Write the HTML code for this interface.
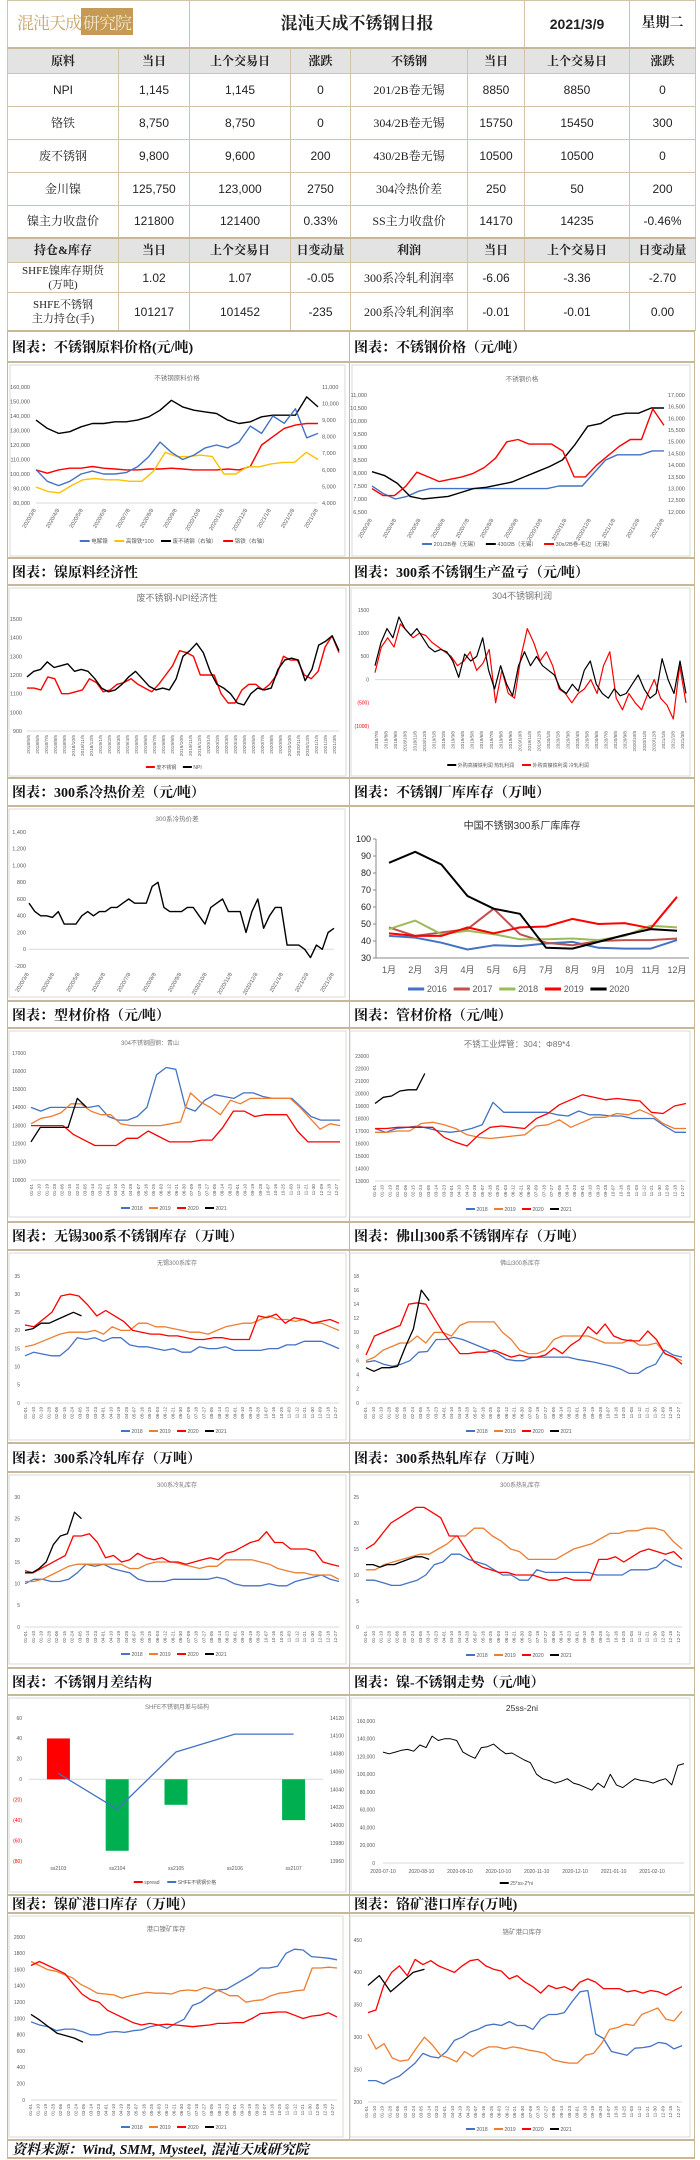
<!DOCTYPE html>
<html><head><meta charset="utf-8">
<style>
*{margin:0;padding:0;box-sizing:border-box}
body{width:700px;height:2160px;background:#fff;position:relative;overflow:hidden;font-family:"Liberation Sans","Noto Sans CJK SC",sans-serif}
table{position:absolute;left:7px;top:0;width:688px;border-collapse:collapse;table-layout:fixed}
td{border:1px solid #d2c4a6;text-align:center;vertical-align:middle;font-size:12px;color:#222;padding:0;line-height:14px}
.s{font-family:"Liberation Serif","Noto Serif CJK SC",serif}
.h td{background:#e3e3e3;font-weight:bold;font-family:"Liberation Serif","Noto Serif CJK SC",serif;font-size:12px}
.thick td{border-top:2px solid #c8b89a}
.band{position:absolute;border:1px solid #c8b89a;border-width:2px 1px 1px 1px;background:#fff}
.ttl{position:absolute;font-family:"Liberation Serif","Noto Serif CJK SC",serif;font-weight:bold;font-size:14px;color:#111;padding-left:4px;border-left:1px solid #c8b89a;border-right:1px solid #c8b89a;border-top:2px solid #c8b89a;border-bottom:2px solid #c8b89a;display:flex;align-items:center;background:#fff}
svg{position:absolute;left:0;top:0}
</style></head><body>
<table>
<colgroup><col style="width:111px"><col style="width:71px"><col style="width:101px"><col style="width:60px"><col style="width:117px"><col style="width:57px"><col style="width:105px"><col style="width:66px"></colgroup>
<tr style="height:47px;border-bottom:2px solid #c8b89a">
<td colspan="2" style="text-align:left;padding-left:9px"><span style="font-family:'Noto Serif CJK SC',serif;color:#c9a46a;font-size:17px;letter-spacing:-1px">混沌天成<span style="background:#c49a55;color:#f3e6cc;padding:1px 2px">研究院</span></span></td>
<td colspan="4" class="s" style="font-size:17px;font-weight:bold">混沌天成不锈钢日报</td>
<td style="font-size:14px;font-weight:bold">2021/3/9</td>
<td class="s" style="font-size:14px;font-weight:bold">星期二</td></tr>
<tr class="h" style="height:26px"><td>原料</td><td>当日</td><td>上个交易日</td><td>涨跌</td><td>不锈钢</td><td>当日</td><td>上个交易日</td><td>涨跌</td></tr>
<tr style="height:33px"><td>NPI</td><td>1,145</td><td>1,145</td><td>0</td><td class="s">201/2B卷无锡</td><td>8850</td><td>8850</td><td>0</td></tr>
<tr style="height:33px"><td class="s">铬铁</td><td>8,750</td><td>8,750</td><td>0</td><td class="s">304/2B卷无锡</td><td>15750</td><td>15450</td><td>300</td></tr>
<tr style="height:33px"><td class="s">废不锈钢</td><td>9,800</td><td>9,600</td><td>200</td><td class="s">430/2B卷无锡</td><td>10500</td><td>10500</td><td>0</td></tr>
<tr style="height:33px"><td class="s">金川镍</td><td>125,750</td><td>123,000</td><td>2750</td><td class="s">304冷热价差</td><td>250</td><td>50</td><td>200</td></tr>
<tr style="height:32px"><td class="s">镍主力收盘价</td><td>121800</td><td>121400</td><td>0.33%</td><td class="s">SS主力收盘价</td><td>14170</td><td>14235</td><td>-0.46%</td></tr>
<tr class="h thick" style="height:25px"><td>持仓&amp;库存</td><td>当日</td><td>上个交易日</td><td>日变动量</td><td>利润</td><td>当日</td><td>上个交易日</td><td>日变动量</td></tr>
<tr style="height:30px"><td class="s" style="font-size:11px">SHFE镍库存期货<br>(万吨)</td><td>1.02</td><td>1.07</td><td>-0.05</td><td class="s">300系冷轧利润率</td><td>-6.06</td><td>-3.36</td><td>-2.70</td></tr>
<tr style="height:38px"><td class="s" style="font-size:11px">SHFE不锈钢<br>主力持仓(手)</td><td>101217</td><td>101452</td><td>-235</td><td class="s">200系冷轧利润率</td><td>-0.01</td><td>-0.01</td><td>0.00</td></tr>
</table>

<div class="ttl" style="left:7px;top:330px;width:343px;height:33px">图表：不锈钢原料价格(元/吨)</div>
<div class="ttl" style="left:349px;top:330px;width:346px;height:33px">图表：不锈钢价格（元/吨）</div>
<div class="ttl" style="left:7px;top:557px;width:343px;height:29px">图表：镍原料经济性</div>
<div class="ttl" style="left:349px;top:557px;width:346px;height:29px">图表：300系不锈钢生产盈亏（元/吨）</div>
<div class="ttl" style="left:7px;top:777px;width:343px;height:30px">图表：300系冷热价差（元/吨）</div>
<div class="ttl" style="left:349px;top:777px;width:346px;height:30px">图表：不锈钢厂库库存（万吨）</div>
<div class="ttl" style="left:7px;top:1000px;width:343px;height:29px">图表：型材价格（元/吨）</div>
<div class="ttl" style="left:349px;top:1000px;width:346px;height:29px">图表：管材价格（元/吨）</div>
<div class="ttl" style="left:7px;top:1221px;width:343px;height:30px">图表：无锡300系不锈钢库存（万吨）</div>
<div class="ttl" style="left:349px;top:1221px;width:346px;height:30px">图表：佛山300系不锈钢库存（万吨）</div>
<div class="ttl" style="left:7px;top:1442px;width:343px;height:31px">图表：300系冷轧库存（万吨）</div>
<div class="ttl" style="left:349px;top:1442px;width:346px;height:31px">图表：300系热轧库存（万吨）</div>
<div class="ttl" style="left:7px;top:1667px;width:343px;height:29px">图表：不锈钢月差结构</div>
<div class="ttl" style="left:349px;top:1667px;width:346px;height:29px">图表：镍-不锈钢走势（元/吨）</div>
<div class="ttl" style="left:7px;top:1894px;width:343px;height:20px">图表：镍矿港口库存（万吨）</div>
<div class="ttl" style="left:349px;top:1894px;width:346px;height:20px">图表：铬矿港口库存(万吨)</div>
<div style="position:absolute;left:7px;top:363px;width:1px;height:1777px;background:#c8b89a"></div>
<div style="position:absolute;left:694px;top:363px;width:1px;height:1777px;background:#c8b89a"></div>
<div style="position:absolute;left:349px;top:363px;width:1px;height:1777px;background:#c8b89a"></div>
<div class="ttl" style="left:7px;top:2139px;width:688px;height:20px;font-style:italic;font-size:14px">资料来源：Wind, SMM, Mysteel, 混沌天成研究院</div>

<svg id="charts" width="700" height="2160"></svg>
<script>
// ---------- DATA ----------
const months13 = ["2020/3/8","2020/4/8","2020/5/8","2020/6/8","2020/7/8","2020/8/8","2020/9/8","2020/10/8","2020/11/8","2020/12/8","2021/1/8","2021/2/8","2021/3/8"];
const days41 = "01-01 01-10 01-19 01-28 02-06 02-15 02-24 03-05 03-14 03-23 04-01 04-10 04-19 04-28 05-07 05-16 05-25 06-03 06-12 06-21 06-30 07-09 07-18 07-27 08-05 08-14 08-23 09-01 09-10 09-19 09-28 10-07 10-16 10-25 11-03 11-12 11-21 11-30 12-09 12-18 12-27".split(" ");
// chart1
const c1Nickel = [103,95,92,95,100,102,100,100,101,105,112,122,115,110,113,118,120,118,122,133,128,140,135,145,125,128];
const c1NPI = [91,88,87,92,96,97,96,96,95,95,102,115,112,112,113,112,100,100,105,105,107,108,108,115,110];
const c1Scrap = [9000,8500,8200,8300,8600,8800,8800,8900,8900,9000,9200,9600,10200,9800,9600,9500,9400,9000,8800,8900,9200,9300,9300,9300,10400,9800];
const c1Chrome = [6000,5800,6000,6100,6100,6200,6100,6050,6000,6000,6050,6050,6100,6050,6000,6000,6000,6050,6000,6200,7500,8000,8500,8700,8800,8800];
const c1LeftTicks = [80,90,100,110,120,130,140,150,160];
const c1RightTicks = [4000,5000,6000,7000,8000,9000,10000,11000];
// chart2
const c2_201 = [7500,7200,7000,7100,7300,7400,7400,7400,7400,7400,7400,7400,7400,7400,7400,7400,7500,7500,7500,8000,8500,8700,8700,8700,8850,8850];
const c2_430 = [8050,7900,7600,7100,7000,7050,7100,7250,7400,7450,7550,7650,7850,8050,8250,8500,9100,9800,9900,10200,10300,10300,10500,10500];
const c2_304 = [13000,12700,12700,13100,13700,13500,13300,13400,13500,13650,13900,14300,15000,15100,14900,14900,14900,14600,13500,13500,14000,14400,14800,15100,15100,16400,15700];
const c2LeftTicks = [6500,7000,7500,8000,8500,9000,9500,10000,10500,11000];
const c2RightTicks = [12000,12500,13000,13500,14000,14500,15000,15500,16000,16500,17000];
// chart3
const c3NPI = [1190,1220,1230,1270,1240,1250,1260,1220,1230,1220,1180,1130,1110,1120,1150,1190,1220,1180,1140,1120,1130,1120,1180,1300,1330,1370,1320,1220,1150,1130,1100,1050,1040,1100,1130,1120,1130,1230,1280,1290,1280,1170,1230,1360,1380,1410,1330];
const c3Scrap = [1130,1130,1120,1190,1180,1100,1100,1110,1120,1180,1160,1110,1120,1150,1160,1180,1150,1130,1110,1150,1200,1250,1330,1320,1300,1200,1200,1200,1100,1050,1050,1120,1150,1150,1120,1150,1200,1300,1280,1280,1200,1180,1220,1350,1410,1320];
const c3Ticks = [900,1000,1100,1200,1300,1400,1500];
const c3XLabels = "2018/5/5 2018/6/5 2018/7/5 2018/8/5 2018/9/5 2018/10/5 2018/11/5 2018/12/5 2019/1/5 2019/2/5 2019/3/5 2019/4/5 2019/5/5 2019/6/5 2019/7/5 2019/8/5 2019/9/5 2019/10/5 2019/11/5 2019/12/5 2020/1/5 2020/2/5 2020/3/5 2020/4/5 2020/5/5 2020/6/5 2020/7/5 2020/8/5 2020/9/5 2020/10/5 2020/11/5 2020/12/5 2021/1/5 2021/2/5 2021/3/5".split(" ");
// chart4
const c4Hot = [300,800,1100,900,1350,1100,950,1100,900,700,600,650,600,400,50,550,400,500,900,200,-200,300,-100,-350,300,600,300,500,300,200,100,-200,-300,-100,-250,200,400,-100,-300,-400,-200,-350,-300,-100,100,-200,-400,-300,450,0,-300,400,-300];
const c4Cold = [150,700,900,700,1200,1050,900,1000,950,800,700,600,500,300,400,600,200,350,650,-500,200,-300,-400,500,1100,800,400,600,300,-200,-300,-500,-300,-200,0,-300,300,600,-400,-650,-300,-500,-650,-300,0,-400,-550,-850,300,-500];
const c4Ticks = [-1000,-500,0,500,1000,1500];
const c4TickLabels = ["(1000)","(500)","0","500","1000","1500"];
const c4XLabels = "2018/7/8 2018/8/8 2018/9/8 2018/10/8 2018/11/8 2018/12/8 2019/1/8 2019/2/8 2019/3/8 2019/4/8 2019/5/8 2019/6/8 2019/7/8 2019/8/8 2019/9/8 2019/10/8 2019/11/8 2019/12/8 2020/1/8 2020/2/8 2020/3/8 2020/4/8 2020/5/8 2020/6/8 2020/7/8 2020/8/8 2020/9/8 2020/10/8 2020/11/8 2020/12/8 2021/1/8 2021/2/8 2021/3/8".split(" ");
// chart5
const c5Spread = [550,450,400,400,380,450,300,300,300,400,450,400,450,450,500,500,550,600,550,550,550,750,800,500,450,450,450,500,500,400,300,500,550,600,450,450,450,200,450,600,250,400,500,500,50,50,50,0,-100,50,0,200,250];
const c5Ticks = [-200,0,200,400,600,800,1000,1200,1400];
// chart6
const c6Months = ["1月","2月","3月","4月","5月","6月","7月","8月","9月","10月","11月","12月"];
const c6Y2016 = [43,42,39,35,37.5,37,38.5,39.5,36,35.5,35.5,40.5];
const c6Y2017 = [48,43,45,47,59,44,39,37.5,40,40.5,40.5,41.5];
const c6Y2018 = [47,52,44,46,44,41,41,41.5,40.5,43,49,48];
const c6Y2019 = [44.5,43,43,48,44.5,48,48.5,53,50,50.5,47.5,66];
const c6Y2020 = [86,92.5,85,66.5,59,56,36,35.5,39.5,43.5,47,46];
const c6Ticks = [30,40,50,60,70,80,90,100];
// chart7
const c7Y2018 = [14000,13800,14000,14000,14000,14000,14000,14100,13500,13300,13300,13500,14000,15800,16200,16100,14000,13800,14400,14700,14600,14500,14800,14800,14600,14500,14500,14500,14000,13500,13300,13300,13300];
const c7Y2019 = [13100,13400,13500,13700,14200,14200,13800,13600,13600,13100,13000,13000,13000,13000,13100,13200,14800,14300,14000,13600,14400,14200,14500,14500,14500,14500,14500,14000,13400,12800,13100,13000];
const c7Y2020 = [13000,13000,13000,13000,12500,12200,11900,11900,11900,12300,12300,12700,12400,12100,12100,12100,12200,12200,12900,13800,13800,13500,13600,13600,13600,12700,12100,12100,12100,12100];
const c7Y2021 = [12100,12900,12900,12900,12900,14500,14000];
const c7Ticks = [10000,11000,12000,13000,14000,15000,16000,17000];
// chart8
const c8Y2018 = [17200,16900,17200,17300,17400,17200,17000,16900,17000,17200,17500,19300,18500,18500,18500,18500,18500,18300,18200,18600,18300,18300,18200,18200,18000,18000,18000,17400,16900,16900];
const c8Y2019 = [16900,16900,17000,17000,17600,17700,17500,17200,16700,16500,16400,16500,16600,16700,17400,17500,17900,17300,17700,18100,18100,18400,18300,18700,18300,17600,17200,17200];
const c8Y2020 = [17200,17200,17300,17300,17300,17300,16500,16100,15800,16700,17300,17400,17300,17200,18000,18400,19100,19500,19900,19700,19500,19600,19500,19400,18500,18400,19000,19200];
const c8Y2021 = [19200,19700,19800,20200,20300,20300,21600];
const c8Ticks = [13000,14000,15000,16000,17000,18000,19000,20000,21000,22000,23000];
// chart9
const c9Y2018 = [13,14,13.5,13,13,15,18,17.5,18,17,18,18,16,15.5,15.5,15,14.5,15,14,14,15.5,15,15,15.5,14.5,14.5,14.5,14.5,15,15,16,16,17,17,17,16,15];
const c9Y2019 = [15.5,16,17,18,19,19.5,19.5,19.5,20,19,21,20,20,22,22,21,21,20.5,20,19.5,19.5,19,20,21,21.5,22,22,23,24,23,23,22.5,23,22,22,21,20];
const c9Y2020 = [21.5,21,23,25,29.5,30,29.5,27,24,25.5,24,22.5,20,19.5,19,19,18.5,18.5,18,17.5,17.5,18,18,17.5,17.5,17.5,24,23.5,24.5,22,23.5,23,22,22.5,23,22];
const c9Y2021 = [20,20.5,22,22,23,24,25,24];
const c9Ticks = [0,5,10,15,20,25,30,35];
// chart10
const c10Y2018 = [5.8,6,5.5,5.2,5.5,6,7.2,7.3,9,9,9.3,9,8.5,8,7.5,7,6.2,6,6,6.5,6.5,6.5,6.5,6.5,6.2,6,5.8,5.5,5.2,4.8,4.2,4.2,5,5.5,7.5,6.8,6.5];
const c10Y2019 = [6,6.5,7.5,8,8.5,8.5,9.5,8.5,10,10,9.5,11,11.5,11.5,11.5,11.5,10,9,7.5,7,7,7.5,9,9.5,9.5,9.5,9.5,9,8.5,8.5,8.5,9,8.2,8.2,8.5,7,6.5,6];
const c10Y2020 = [6.8,9.5,10,10.5,11,14,14.2,14,12,10,8.5,7,7,7.2,7.2,7.5,7,6.5,6.8,6.5,6.5,6.8,7.8,7,8.2,9,10.8,9.8,11.2,9.5,9,8.8,8.8,10.2,9,7,6.5,5.5];
const c10Y2021 = [5,4.5,5,5,5.2,8,10.5,16,14.5];
const c10Ticks = [0,2,4,6,8,10,12,14,16,18];
// chart11
const c11Y2018 = [10,11,11,10.5,10.5,11,12.5,14.5,14,14.5,13.5,13,12.5,11,10.5,10.5,10.5,11,11,11,11,11,11.5,11,10,9.5,9.5,9.5,10,9.5,9.5,10.5,11,11.5,12,11,10.5];
const c11Y2019 = [10.5,10.5,11,12,13,14,14.5,14.5,14.5,14.5,14.5,14.5,13.5,13.5,14.5,15,15,15,14.5,14,13.5,14,14,15.5,15.5,15.5,15.5,15,14.5,13.5,13,12.5,12.5,12,12,12,11];
const c11Y2020 = [13,12.5,13.5,14.5,15.5,16.5,21,21,21.5,19.5,16,16.5,15,15.5,17,16,15.5,16,15,15,14.5,15,15.5,16,15.5,17,17.5,18.5,19.5,20,22,19.5,19.5,18,18,18,17.5,15,14.5,14];
const c11Y2021 = [12.5,12.5,13.5,15,19,21,21.5,26.5,25];
const c11Ticks = [0,5,10,15,20,25,30];
// chart12
const c12Y2018 = [9,9,8.5,8,8,8.5,9,10,12,12.5,14,14,13,12.5,12,11,10,10,9,9,11,10.5,10.5,10.5,10.5,10.5,10.5,10,10,10,10,11,11,11,11.5,13,12,11.5];
const c12Y2019 = [11,11,12,12.5,13,13.5,14,14,15,16,17.5,17.5,19,19,17.5,16.5,15,14.5,13,13,13,13,14,15,15.5,16,17,18,18,18.5,18.5,19,19,18.5,16.5,15];
const c12Y2020 = [15,16,18,20,21,22,23,23,22,21,17.5,17.5,15,12.5,11.5,11,10.5,10.5,10,10,10,9.5,9,9,9.5,9,9,9,13,13,13.5,12.5,13.5,14.5,15,14.5,14,14.5,13];
const c12Y2021 = [12,12,11.5,12,12,12.5,13,13.5,13.5,13];
const c12Ticks = [0,5,10,15,20,25];
// chart13
const c13Contracts = ["ss2103","ss2104","ss2105","ss2106","ss2107"];
const c13Spread = [40,-70,-25,0,-40];
const c13Price = [14058,14018,14082,14102,14102];
const c13LeftTicks = [-80,-60,-40,-20,0,20,40,60];
const c13LeftLabels = ["(80)","(60)","(40)","(20)","0","20","40","60"];
const c13RightTicks = [13960,13980,14000,14020,14040,14060,14080,14100,14120];
// chart14
const c14Values = [125,123,125,127,128,126,133,130,143,138,140,140,138,125,121,118,130,131,134,128,123,124,120,116,113,100,95,93,90,92,95,90,88,85,82,90,85,100,88,85,90,95,93,92,90,93,95,88,110,112];
const c14Ticks = [0,20000,40000,60000,80000,100000,120000,140000,160000];
const c14XLabels = ["2020-07-10","2020-08-10","2020-09-10","2020-10-10","2020-11-10","2020-12-10","2021-01-10","2021-02-10"];
// chart15
const c15Y2018 = [960,920,900,850,870,870,840,800,800,830,840,830,850,860,900,920,880,940,990,1160,1200,1280,1350,1360,1420,1480,1540,1620,1620,1640,1800,1850,1840,1760,1750,1740,1720];
const c15Y2019 = [1700,1650,1600,1580,1540,1500,1420,1370,1310,1300,1290,1250,1280,1300,1320,1310,1310,1300,1340,1350,1340,1380,1360,1330,1280,1280,1200,1220,1230,1280,1310,1320,1340,1350,1620,1620,1630,1620];
const c15Y2020 = [1650,1700,1650,1600,1550,1420,1300,1230,1200,1100,1050,1000,950,920,940,920,930,920,910,900,910,920,940,940,950,950,1000,1060,1070,1080,1080,1040,1000,1030,1040,1070,1020];
const c15Y2021 = [1050,980,900,820,790,760,710];
const c15Ticks = [0,200,400,600,800,1000,1200,1400,1600,1800,2000];
// chart16
const c16Y2018 = [233,233,228,235,240,250,260,275,270,268,278,295,300,308,312,318,320,318,324,318,318,312,328,335,335,338,355,370,372,305,298,278,275,272,283,284,286,292,290,282,287];
const c16Y2019 = [305,282,290,268,263,265,283,300,288,272,268,262,278,270,280,285,285,282,285,283,280,278,275,265,262,260,260,272,275,290,312,315,320,318,335,340,345,328,325,340];
const c16Y2020 = [338,342,380,400,410,395,420,412,418,410,405,400,410,418,420,410,405,402,390,395,385,378,368,380,375,378,372,385,390,385,375,375,375,370,372,368,372,370,365,372,378];
const c16Y2021 = [380,395,370,385,400,405];
const c16Ticks = [200,250,300,350,400,450];

// ---------- RENDER ----------
const NS='http://www.w3.org/2000/svg';
const svg=document.getElementById('charts');
const BLUE='#4472c4',ORANGE='#ed7d31',RED='#ff0000',BLACK='#000000',YELLOW='#ffc000';
function mk(tag,attrs){const e=document.createElementNS(NS,tag);for(const k in attrs)e.setAttribute(k,attrs[k]);svg.appendChild(e);return e;}
function sc(v,a,b,p0,p1){return p0+(v-a)/(b-a)*(p1-p0);}
function comma(v){return v.toString().replace(/\B(?=(\d{3})+(?!\d))/g,',');}
function frame(x,y,w,h,name){const r=mk('rect',{x:x,y:y,width:w,height:h,fill:'#fff',stroke:'#d9d9d9','stroke-width':1});

}
function title(t,x,y,size,color,name){const e=mk('text',{x:x,y:y,'font-size':size,fill:color,'text-anchor':'middle'});e.textContent=t;

}
function line(vals,g,span,color,w,name){
  const n=vals.length;
  const pts=vals.map((v,i)=>{const x=g.x0+(n>1?i/(n-1):0)*span*(g.x1-g.x0);const y=sc(v,g.min,g.max,g.yB,g.yT);return x.toFixed(1)+','+y.toFixed(1);});
  const p=mk('polyline',{points:pts.join(' '),fill:'none',stroke:color,'stroke-width':w,'stroke-linejoin':'round'});
  
  
}
function yLabels(ticks,labels,g,x,anchor,size,color,name){
  ticks.forEach((t,i)=>{const y=sc(t,g.min,g.max,g.yB,g.yT);const e=mk('text',{x:x,y:(y+size*0.35).toFixed(1),'font-size':size,fill:(typeof color==='function'?color(t):color),'text-anchor':anchor});e.textContent=labels[i];
  
  });
}
function xLabels(labels,g,y,rot,size,name){
  const n=labels.length;
  labels.forEach((l,i)=>{const x=g.x0+(n>1?i/(n-1):0)*(g.x1-g.x0);const e=mk('text',{x:0,y:0,'font-size':size,fill:'#595959','text-anchor':rot?'end':'middle',transform:'translate('+x.toFixed(1)+','+y+') rotate('+rot+')'});e.textContent=l;
  
  });
}
function baseline(g,y){mk('line',{x1:g.x0,x2:g.x1,y1:y,y2:y,stroke:'#d9d9d9','stroke-width':1});}
function legend(items,cx,y,size){
  const widths=items.map(it=>{let w=0;for(const c of it[0])w+=(c.charCodeAt(0)>255?size:size*0.55);return w+size*2.2+6;});
  let x=cx-widths.reduce((a,b)=>a+b,0)/2;
  items.forEach((it,i)=>{mk('line',{x1:x,x2:x+size*1.8,y1:y,y2:y,stroke:it[1],'stroke-width':Math.max(2,size/3)});
    const t=mk('text',{x:x+size*2.1,y:y+size*0.35,'font-size':size,fill:'#595959'});t.textContent=it[0];
    
    
    x+=widths[i];});
}
const k=v=>comma(v);
// chart 1
frame(10,365,335,191,'chart-raw-material-price');
title('不锈钢原料价格',177,380,6.5,'#777','chart1-title');
{const g={x0:36,x1:318,yT:387,yB:503,min:80,max:160};const g2={x0:36,x1:318,yT:387,yB:503,min:4000,max:11000};
baseline(g,503);
yLabels(c1LeftTicks,c1LeftTicks.map(v=>comma(v*1000)),g,30,'end',5.5,'#595959','chart1-left-tick');
yLabels(c1RightTicks,c1RightTicks.map(k),g2,322,'start',5.5,'#595959','chart1-right-tick');
xLabels(months13,g,510,-60,5.5,'chart1-x-tick');
line(c1Scrap,g2,1,BLACK,1.4,'series-scrap');
line(c1Chrome,g2,1,RED,1.4,'series-ferrochrome');
line(c1NPI,g,1,YELLOW,1.4,'series-npi');
line(c1Nickel,g,1,BLUE,1.4,'series-nickel');
legend([['电解镍',BLUE],['高镍铁*100',YELLOW],['废不锈钢（右轴）',BLACK],['铬铁（右轴）',RED]],177,541,5.5);}
// chart 2
frame(352,365,338,191,'chart-stainless-price');
title('不锈钢价格',522,381,6.5,'#777','chart2-title');
{const g={x0:372,x1:664,yT:395,yB:512,min:6500,max:11000};const g2={x0:372,x1:664,yT:395,yB:512,min:12000,max:17000};
yLabels(c2LeftTicks,c2LeftTicks.map(k),g,367,'end',5.5,'#595959','chart2-left-tick');
yLabels(c2RightTicks,c2RightTicks.map(k),g2,668,'start',5.5,'#595959','chart2-right-tick');
xLabels(months13,g,520,-60,5.5,'chart2-x-tick');
line(c2_201,g,1,BLUE,1.4,'series-201');
line(c2_430,g,1,BLACK,1.4,'series-430');
line(c2_304,g2,1,RED,1.4,'series-304');
legend([['201/2B卷（无锡）',BLUE],['430/2B（无锡）',BLACK],['30x/2B卷-毛边（无锡）',RED]],522,544,5.5);}
// chart 3
frame(9,588,337,188,'chart-nickel-economics');
title('废不锈钢-NPI经济性',177,601,9,'#777','chart3-title');
{const g={x0:27,x1:339,yT:619,yB:731,min:900,max:1500};
baseline(g,731);
yLabels(c3Ticks,c3Ticks.map(String),g,22,'end',5.5,'#595959','chart3-tick');
xLabels(c3XLabels,{x0:30,x1:336},735,-90,4.8,'chart3-x-tick');
line(c3Scrap,g,1,RED,1.4,'series-scrap-economics');
line(c3NPI,g,1,BLACK,1.4,'series-npi-economics');
legend([['废不锈钢',RED],['NPI',BLACK]],177,767,5);}
// chart 4
frame(351,588,339,188,'chart-304-profit');
title('304不锈钢利润',522,599,9,'#777','chart4-title');
{const g={x0:375,x1:686,yT:610,yB:726,min:-1000,max:1500};
baseline(g,sc(0,-1000,1500,726,610));
yLabels(c4Ticks,c4TickLabels,g,369,'end',5,v=>v<0?'#ff0000':'#595959','chart4-tick');
xLabels(c4XLabels,{x0:378,x1:684},731,-90,4.6,'chart4-x-tick');
line(c4Cold,g,1,RED,1.2,'series-cold-profit');
line(c4Hot,g,1,BLACK,1.2,'series-hot-profit');
legend([['外购高镍铁利润 热轧利润',BLACK],['外购高镍铁利润 冷轧利润',RED]],522,765,5);}
// chart 5
frame(9,809,336,188,'chart-cold-hot-spread');
title('300系冷热价差',177,821,6.5,'#777','chart5-title');
{const g={x0:29,x1:334,yT:832,yB:966,min:-200,max:1400};
baseline(g,sc(0,-200,1400,966,832));
yLabels(c5Ticks,c5Ticks.map(k),g,26,'end',5.5,'#595959','chart5-tick');
xLabels(months13,g,974,-60,5.5,'chart5-x-tick');
line(c5Spread,g,1,BLACK,1.4,'series-cold-hot-spread');}
// chart 6
{const g={x0:389,x1:677,yT:839,yB:958,min:30,max:100};
title('中国不锈钢300系厂库库存',522,829,10,'#333','chart6-title');
mk('line',{x1:376,x2:376,y1:839,y2:958,stroke:'#888'});
mk('line',{x1:376,x2:689,y1:958,y2:958,stroke:'#888'});
c6Ticks.forEach(t=>{const y=sc(t,30,100,958,839);mk('line',{x1:373,x2:376,y1:y,y2:y,stroke:'#888'});});
yLabels(c6Ticks,c6Ticks.map(String),g,371,'end',9,'#222','chart6-tick');
xLabels(c6Months,g,973,0,9,'chart6-x-tick');
line(c6Y2016,g,1,BLUE,2,'series-2016');
line(c6Y2017,g,1,'#c0504d',2,'series-2017');
line(c6Y2018,g,1,'#9bbb59',2,'series-2018');
line(c6Y2019,g,1,RED,2,'series-2019');
line(c6Y2020,g,1,BLACK,2,'series-2020');
legend([['2016',BLUE],['2017','#c0504d'],['2018','#9bbb59'],['2019',RED],['2020',BLACK]],522,989,9);}
// chart 7
frame(9,1031,337,186,'chart-section-price');
title('304不锈钢圆钢：青山',150,1045,6,'#777','chart7-title');
{const g={x0:31,x1:340,yT:1053,yB:1180,min:10000,max:17000};
baseline(g,1180);
yLabels(c7Ticks,c7Ticks.map(String),g,26,'end',5,'#595959','chart7-tick');
xLabels(days41,{x0:33,x1:338},1184,-90,4.6,'chart7-x-tick');
line(c7Y2018,g,1,BLUE,1.3,'series-2018');
line(c7Y2019,g,1,ORANGE,1.3,'series-2019');
line(c7Y2020,g,1,RED,1.3,'series-2020');
line(c7Y2021,g,0.18,BLACK,1.3,'series-2021');
legend([['2018',BLUE],['2019',ORANGE],['2020',RED],['2021',BLACK]],177,1208,5);}
// chart 8
frame(350,1031,340,186,'chart-pipe-price');
title('不锈工业焊管：304：Φ89*4',517,1047,8.5,'#777','chart8-title');
{const g={x0:375,x1:686,yT:1056,yB:1181,min:13000,max:23000};
baseline(g,1181);
yLabels(c8Ticks,c8Ticks.map(String),g,369,'end',5,'#595959','chart8-tick');
xLabels(days41,{x0:376,x1:684},1185,-90,4.6,'chart8-x-tick');
line(c8Y2018,g,1,BLUE,1.3,'series-2018');
line(c8Y2019,g,1,ORANGE,1.3,'series-2019');
line(c8Y2020,g,1,RED,1.3,'series-2020');
line(c8Y2021,g,0.16,BLACK,1.3,'series-2021');
legend([['2018',BLUE],['2019',ORANGE],['2020',RED],['2021',BLACK]],522,1209,5);}
// chart 9
frame(9,1253,337,187,'chart-wuxi-inventory');
title('无锡300系库存',177,1265,6,'#777','chart9-title');
{const g={x0:25,x1:339,yT:1276,yB:1403,min:0,max:35};
baseline(g,1403);
yLabels(c9Ticks,c9Ticks.map(String),g,20,'end',5,'#595959','chart9-tick');
xLabels(days41,{x0:27,x1:337},1407,-90,4.6,'chart9-x-tick');
line(c9Y2018,g,1,BLUE,1.3,'series-2018');
line(c9Y2019,g,1,ORANGE,1.3,'series-2019');
line(c9Y2020,g,1,RED,1.3,'series-2020');
line(c9Y2021,g,0.18,BLACK,1.3,'series-2021');
legend([['2018',BLUE],['2019',ORANGE],['2020',RED],['2021',BLACK]],177,1431,5);}
// chart 10
frame(350,1253,340,187,'chart-foshan-inventory');
title('佛山300系库存',520,1265,6,'#777','chart10-title');
{const g={x0:366,x1:682,yT:1276,yB:1403,min:0,max:18};
baseline(g,1403);
yLabels(c10Ticks,c10Ticks.map(String),g,359,'end',5,'#595959','chart10-tick');
xLabels(days41,{x0:367,x1:680},1407,-90,4.6,'chart10-x-tick');
line(c10Y2018,g,1,BLUE,1.3,'series-2018');
line(c10Y2019,g,1,ORANGE,1.3,'series-2019');
line(c10Y2020,g,1,RED,1.3,'series-2020');
line(c10Y2021,g,0.2,BLACK,1.3,'series-2021');
legend([['2018',BLUE],['2019',ORANGE],['2020',RED],['2021',BLACK]],522,1431,5);}
// chart 11
frame(9,1475,337,189,'chart-cold-rolled-inventory');
title('300系冷轧库存',177,1487,6,'#777','chart11-title');
{const g={x0:25,x1:339,yT:1497,yB:1627,min:0,max:30};
baseline(g,1627);
yLabels(c11Ticks,c11Ticks.map(String),g,20,'end',5,'#595959','chart11-tick');
xLabels(days41,{x0:27,x1:337},1631,-90,4.6,'chart11-x-tick');
line(c11Y2018,g,1,BLUE,1.3,'series-2018');
line(c11Y2019,g,1,ORANGE,1.3,'series-2019');
line(c11Y2020,g,1,RED,1.3,'series-2020');
line(c11Y2021,g,0.18,BLACK,1.3,'series-2021');
legend([['2018',BLUE],['2019',ORANGE],['2020',RED],['2021',BLACK]],177,1654,5);}
// chart 12
frame(350,1475,340,189,'chart-hot-rolled-inventory');
title('300系热轧库存',520,1487,6,'#777','chart12-title');
{const g={x0:366,x1:682,yT:1497,yB:1627,min:0,max:25};
baseline(g,1627);
yLabels(c12Ticks,c12Ticks.map(String),g,359,'end',5,'#595959','chart12-tick');
xLabels(days41,{x0:367,x1:680},1631,-90,4.6,'chart12-x-tick');
line(c12Y2018,g,1,BLUE,1.3,'series-2018');
line(c12Y2019,g,1,ORANGE,1.3,'series-2019');
line(c12Y2020,g,1,RED,1.3,'series-2020');
line(c12Y2021,g,0.2,BLACK,1.3,'series-2021');
legend([['2018',BLUE],['2019',ORANGE],['2020',RED],['2021',BLACK]],522,1655,5);}
// chart 13
frame(9,1698,337,194,'chart-month-spread');
title('SHFE不锈钢月差与结构',177,1709,6,'#777','chart13-title');
{const g={x0:29,x1:323,yT:1718,yB:1861,min:-80,max:60};const g2={x0:29,x1:323,yT:1718,yB:1861,min:13960,max:14120};
const y0=sc(0,-80,60,1861,1718);
mk('line',{x1:29,x2:323,y1:y0,y2:y0,stroke:'#d9d9d9'});
yLabels(c13LeftTicks,c13LeftLabels,g,22,'end',5,v=>v<0?'#ff0000':'#595959','chart13-left-tick');
yLabels(c13RightTicks,c13RightTicks.map(String),g2,330,'start',5,'#595959','chart13-right-tick');
const step=(g.x1-g.x0)/c13Contracts.length;
c13Spread.forEach((v,i)=>{const cx=g.x0+(i+0.5)*step;const y=sc(v,-80,60,1861,1718);
  const b=mk('rect',{x:cx-11.5,y:Math.min(y,y0),width:23,height:Math.abs(y-y0),fill:v>=0?'#ff0000':'#00b050'});
  
  
  const t=mk('text',{x:cx,y:1870,'font-size':5,fill:'#595959','text-anchor':'middle'});t.textContent=c13Contracts[i];
  
  });
const pts=c13Price.map((v,i)=>(g.x0+(i+0.5)*step).toFixed(1)+','+sc(v,13960,14120,1861,1718).toFixed(1)).join(' ');
const pl=mk('polyline',{points:pts,fill:'none',stroke:BLUE,'stroke-width':1.3});


legend([['spread',RED],['SHFE不锈钢价格',BLUE]],177,1882,5);}
// chart 14
frame(351,1698,339,194,'chart-ni-ss-trend');
title('25ss-2ni',522,1711,8.5,'#333','chart14-title');
{const g={x0:383,x1:684,yT:1721,yB:1863,min:0,max:160};const gl={x0:383,x1:684,yT:1721,yB:1863,min:0,max:160000};
baseline(g,1863);
yLabels(c14Ticks,c14Ticks.map(k),gl,375,'end',5,'#595959','chart14-tick');
xLabels(c14XLabels,{x0:383,x1:652},1873,0,5,'chart14-x-tick');
line(c14Values,g,1,BLACK,1,'series-25ss-2ni');
legend([['25*ss-2*ni',BLACK]],522,1883,5);}
// chart 15
frame(9,1916,334,221,'chart-nickel-ore-port');
title('港口镍矿库存',166,1931,6.5,'#777','chart15-title');
{const g={x0:31,x1:337,yT:1937,yB:2100,min:0,max:2000};
baseline(g,2100);
yLabels(c15Ticks,c15Ticks.map(String),g,25,'end',5,'#595959','chart15-tick');
xLabels(days41,{x0:32,x1:334},2104,-90,4.6,'chart15-x-tick');
line(c15Y2018,g,1,BLUE,1.3,'series-2018');
line(c15Y2019,g,1,ORANGE,1.3,'series-2019');
line(c15Y2020,g,1,RED,1.3,'series-2020');
line(c15Y2021,g,0.17,BLACK,1.3,'series-2021');
legend([['2018',BLUE],['2019',ORANGE],['2020',RED],['2021',BLACK]],177,2127,5);}
// chart 16
frame(350,1916,340,221,'chart-chrome-ore-port');
title('铬矿港口库存',522,1934,6.5,'#777','chart16-title');
{const g={x0:368,x1:682,yT:1940,yB:2102,min:200,max:450};
baseline(g,2102);
yLabels(c16Ticks,c16Ticks.map(String),g,362,'end',5,'#595959','chart16-tick');
xLabels(days41,{x0:368,x1:680},2106,-90,4.6,'chart16-x-tick');
line(c16Y2018,g,1,BLUE,1.3,'series-2018');
line(c16Y2019,g,1,ORANGE,1.3,'series-2019');
line(c16Y2020,g,1,RED,1.3,'series-2020');
line(c16Y2021,g,0.18,BLACK,1.3,'series-2021');
legend([['2018',BLUE],['2019',ORANGE],['2020',RED],['2021',BLACK]],522,2129,5);}
</script>
</body></html>
